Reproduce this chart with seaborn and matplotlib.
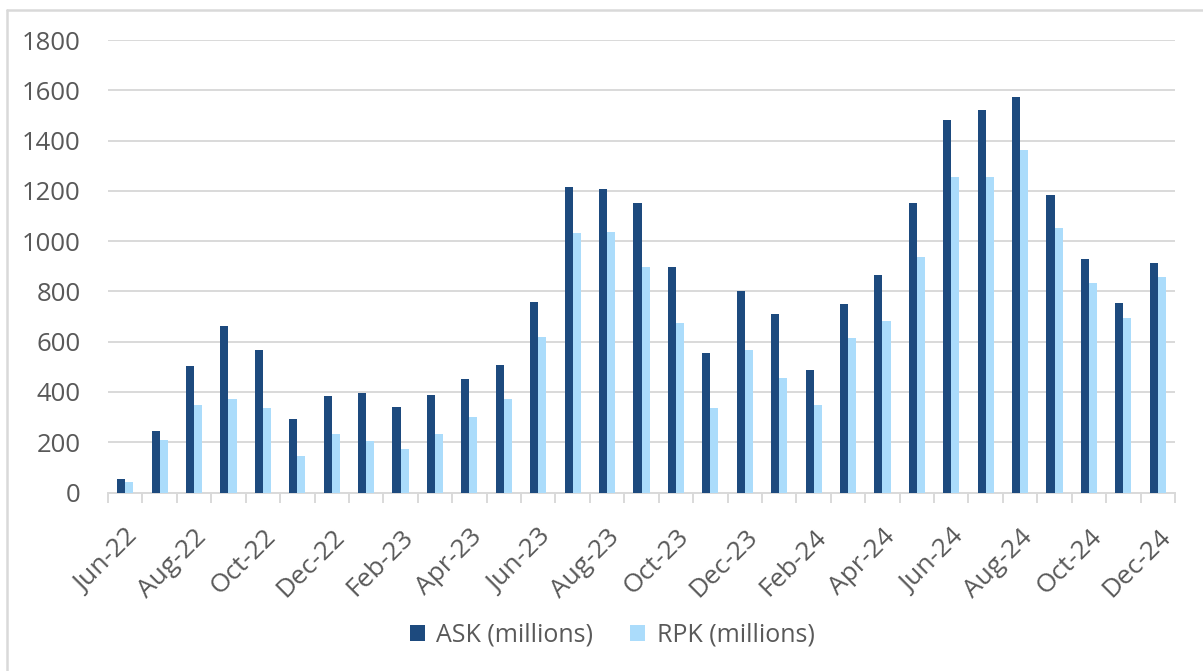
import matplotlib
matplotlib.use("Agg")
import matplotlib.pyplot as plt
import matplotlib.transforms as mtransforms
import seaborn as sns
import pandas as pd
import numpy as np
from matplotlib.lines import Line2D
from matplotlib.ticker import FixedLocator

months = [
    "Jun-22", "Jul-22", "Aug-22", "Sep-22", "Oct-22", "Nov-22", "Dec-22",
    "Jan-23", "Feb-23", "Mar-23", "Apr-23", "May-23", "Jun-23", "Jul-23",
    "Aug-23", "Sep-23", "Oct-23", "Nov-23", "Dec-23", "Jan-24", "Feb-24",
    "Mar-24", "Apr-24", "May-24", "Jun-24", "Jul-24", "Aug-24", "Sep-24",
    "Oct-24", "Nov-24", "Dec-24",
]
ask = [52, 245, 504, 661, 565, 292, 385, 394, 342, 389, 450, 508, 759, 1216,
       1207, 1152, 897, 556, 800, 709, 487, 750, 865, 1152, 1481, 1522, 1573,
       1184, 930, 754, 912]
rpk = [42, 208, 348, 370, 338, 145, 232, 203, 172, 232, 301, 370, 620, 1031,
       1037, 897, 676, 338, 565, 454, 348, 616, 682, 936, 1254, 1254, 1364,
       1051, 834, 694, 856]
series_names = ["ASK (millions)", "RPK (millions)"]
y_ticks = [0, 200, 400, 600, 800, 1000, 1200, 1400, 1600, 1800]

ASK_COLOR = "#1d4a7e"
RPK_COLOR = "#abdcfb"
TEXT_COLOR = "#595959"
GRID_COLOR = "#d9d9d9"

df = pd.DataFrame({
    "month": months * 2,
    "value": ask + rpk,
    "series": [series_names[0]] * len(months) + [series_names[1]] * len(months),
})

sns.set_theme(style="white")
plt.rcParams["font.family"] = ["Open Sans", "DejaVu Sans"]

fig = plt.figure(figsize=(12.03, 6.71), dpi=100)
ax = fig.add_axes([108 / 1203, 1 - 492.5 / 671, (1175 - 108) / 1203, (492.5 - 40) / 671])

sns.barplot(
    data=df, x="month", y="value", hue="series", order=months,
    hue_order=series_names, palette=[ASK_COLOR, RPK_COLOR],
    width=0.47, gap=0, saturation=1, ax=ax, legend=False,
    linewidth=0, zorder=3,
)

ax.set_xlim(-0.5, len(months) - 0.5)
ax.set_ylim(0, 1800)
ax.set_yticks(y_ticks)
ax.set_yticklabels([str(v) for v in y_ticks])
ax.yaxis.grid(True, color=GRID_COLOR, linewidth=1.4, zorder=0)
ax.set_axisbelow(True)
ax.tick_params(axis="y", length=0, pad=19.5, labelsize=18.5, labelcolor=TEXT_COLOR)

# Every second month gets a label; boundary tick marks between categories
label_pos = list(range(0, len(months), 2))
ax.set_xticks(label_pos)
ax.set_xticklabels([months[i] for i in label_pos], rotation=45, ha="right",
                   va="top", rotation_mode="anchor")
shift = mtransforms.ScaledTranslation(-5 / 100, 0, fig.dpi_scale_trans)
for lbl in ax.get_xticklabels():
    lbl.set_transform(lbl.get_transform() + shift)
ax.xaxis.set_minor_locator(FixedLocator(np.arange(-0.5, len(months), 1.0)))
ax.tick_params(axis="x", which="major", length=0, pad=23, labelsize=19,
               labelcolor=TEXT_COLOR)
ax.tick_params(axis="x", which="minor", length=7, width=1.4, color=GRID_COLOR,
               direction="out", bottom=True)
ax.set_xlabel("")
ax.set_ylabel("")

for side in ["top", "right", "left"]:
    ax.spines[side].set_visible(False)
ax.spines["bottom"].set_color(GRID_COLOR)
ax.spines["bottom"].set_linewidth(1.4)

handles = [
    plt.Rectangle((0, 0), 1, 1, facecolor=ASK_COLOR, edgecolor="none"),
    plt.Rectangle((0, 0), 1, 1, facecolor=RPK_COLOR, edgecolor="none"),
]
fig.legend(handles, series_names, loc="center", bbox_to_anchor=(612 / 1203, 1 - 635 / 671),
           ncol=2, frameon=False, fontsize=18, labelcolor=TEXT_COLOR,
           handlelength=0.6, handleheight=0.6, handletextpad=0.45,
           columnspacing=1.5)

# Chart frame edges
fig.add_artist(Line2D([7 / 1203, 7 / 1203], [0, 1 - 10 / 671],
                      transform=fig.transFigure, color=GRID_COLOR, linewidth=1.8))
fig.add_artist(Line2D([7 / 1203, 1], [1 - 10 / 671, 1 - 10 / 671],
                      transform=fig.transFigure, color=GRID_COLOR, linewidth=1.8))

fig.savefig("out.png", dpi=100, facecolor="white")
